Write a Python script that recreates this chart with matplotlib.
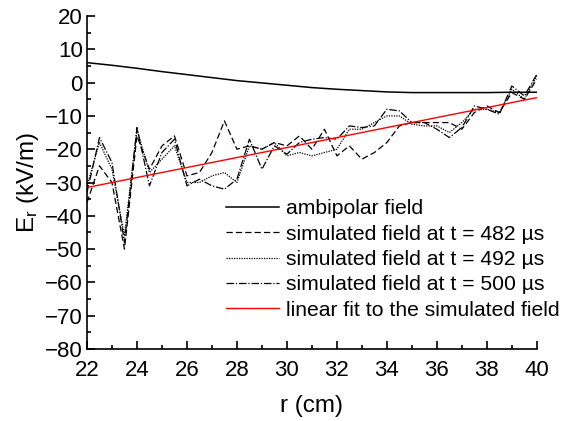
import numpy as np
import matplotlib
matplotlib.use("Agg")
import matplotlib.pyplot as plt
from matplotlib.ticker import MultipleLocator

plt.rcParams["font.family"] = ["Liberation Sans", "DejaVu Sans"]
plt.rcParams["mathtext.default"] = "regular"

# ambipolar field (smooth), 1 cm spacing
r_amb = [22, 23, 24, 25, 26, 27, 28, 29, 30, 31, 32, 33, 34, 35, 36, 37, 38, 39, 40]
e_amb = [6.0, 5.2, 4.3, 3.3, 2.4, 1.5, 0.6, -0.1, -0.8, -1.5, -2.0, -2.4, -2.8,
         -3.0, -3.0, -3.0, -3.0, -2.9, -2.9]

# simulated fields, 0.5 cm spacing
r_sim = [22.0, 22.5, 23.0, 23.5, 24.0, 24.5, 25.0, 25.5, 26.0, 26.5, 27.0, 27.5,
         28.0, 28.5, 29.0, 29.5, 30.0, 30.5, 31.0, 31.5, 32.0, 32.5, 33.0, 33.5,
         34.0, 34.5, 35.0, 35.5, 36.0, 36.5, 37.0, 37.5, 38.0, 38.5, 39.0, 39.5, 40.0]
e_482 = [-36, -25, -30, -50, -16, -26, -19, -16, -28, -27, -21, -11.5,
         -20, -19, -20, -18, -19, -16, -20, -14, -22, -19, -23, -21,
         -18, -13, -12, -12, -12, -12, -14, -9, -7, -9, -3, -5, 1]
e_492 = [-31, -18, -26, -46, -14, -27, -23, -19, -30, -30, -28, -27,
         -30, -19, -20, -18, -22, -21, -22, -21, -20, -14, -14, -12,
         -10, -10, -12.5, -13, -13, -15, -12, -8, -8, -9, -2, -5, 2]
e_500 = [-33, -16.5, -24, -48, -13.5, -31, -21, -17, -31, -29, -31, -32,
         -29, -17, -26, -19, -21.5, -18, -17, -16.5, -17, -13, -13.5, -13,
         -8, -8.5, -12, -12, -14, -16.5, -13.5, -7, -8, -9.5, -1, -4, 2.5]

# linear fit endpoints
r_fit = [22, 40]
e_fit = [-31.5, -4.5]

fig = plt.figure(figsize=(5.76, 4.21), dpi=100)
ax = fig.add_axes([0.151, 0.171, 0.781, 0.791])

ax.plot(r_amb, e_amb, color="black", lw=1.1, label="ambipolar field")
ax.plot(r_sim, e_482, color="black", lw=0.9, ls=(0, (5, 2.5)),
        label="simulated field at t = 482 µs")
ax.plot(r_sim, e_492, color="black", lw=0.9, ls=(0, (1, 1)),
        label="simulated field at t = 492 µs")
ax.plot(r_sim, e_500, color="black", lw=0.9, ls=(0, (6, 1.5, 1, 1.5)),
        label="simulated field at t = 500 µs")
ax.plot(r_fit, e_fit, color="red", lw=1.0, label="linear fit to the simulated field")

ax.set_xlim(22, 40)
ax.set_ylim(-80, 20)
ax.xaxis.set_major_locator(MultipleLocator(2))
ax.xaxis.set_minor_locator(MultipleLocator(1))
ax.yaxis.set_major_locator(MultipleLocator(10))
ax.yaxis.set_minor_locator(MultipleLocator(5))
ax.tick_params(which="both", direction="in", labelsize=16, width=1.2)
ax.tick_params(axis="x", pad=8)
ax.tick_params(axis="y", pad=3)
ax.tick_params(which="major", length=6)
ax.tick_params(which="minor", length=3)
for s in ("top", "right"):
    ax.spines[s].set_visible(False)
for s in ("left", "bottom"):
    ax.spines[s].set_linewidth(1.2)

ax.set_xlabel("r (cm)", fontsize=17.5, labelpad=10)
ax.set_ylabel("E$_r$ (kV/m)", fontsize=17.5, labelpad=3)

ax.legend(loc="lower right", bbox_to_anchor=(1.07, 0.063), frameon=False,
          fontsize=15.2, handlelength=2.5, handletextpad=0.35,
          labelspacing=0.3, borderaxespad=0)

fig.savefig("out.png", dpi=100, facecolor="white")
